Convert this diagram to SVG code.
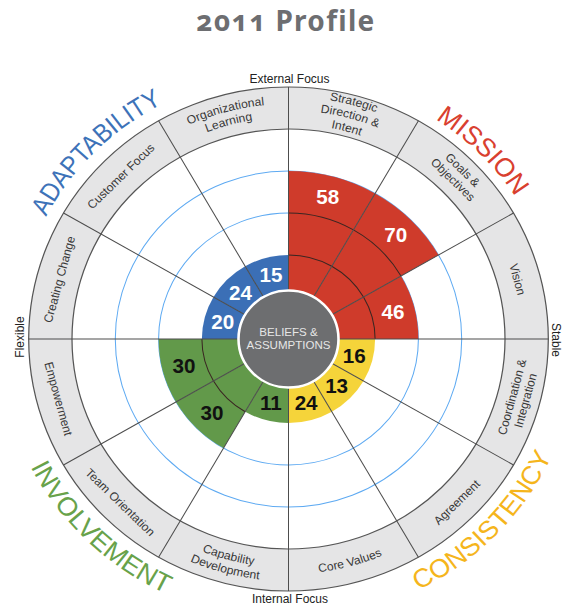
<svg xmlns="http://www.w3.org/2000/svg" width="568" height="605" viewBox="0 0 568 605">
<style>
.w-red{fill:#cf3b2b}
.w-blue{fill:#3b6fb6}
.w-green{fill:#62994a}
.w-yellow{fill:#f5d43a}
.inner-arc{fill:none;stroke:#3a2622;stroke-width:1}
.ring{fill:none;stroke:#5eaaf2;stroke-width:1}
.band{fill:none;stroke:#e5e5e6;stroke-width:42}
.edge{fill:none;stroke:#555;stroke-width:1.2}
.spoke{stroke:#4d4d4d;stroke-width:1}
.lbl{font-family:"Liberation Sans",Arial,sans-serif;font-size:11.8px;fill:#383838;text-anchor:middle}
.num{font-family:"Liberation Sans",Arial,sans-serif;font-size:20px;font-weight:bold;text-anchor:middle}
.nl{fill:#fff}
.nd{fill:#111}
.axis{font-family:"Liberation Sans",Arial,sans-serif;font-size:12px;fill:#222;text-anchor:middle}
.quad{font-family:"Liberation Sans",Arial,sans-serif;font-size:26px}
.core-txt{font-family:"Liberation Sans",Arial,sans-serif;font-size:11.2px;fill:#e6e6e6;text-anchor:middle}
</style>
<defs>
<path id="lp-org1" d="M-117.5,-203.52 A235 235 0 0 1 0,-235"/>
<path id="lp-org2" d="M-110.75,-191.82 A221.5 221.5 0 0 1 0,-221.5"/>
<path id="lp-str1" d="M0,-242 A242 242 0 0 1 121,-209.58"/>
<path id="lp-str2" d="M0,-228.5 A228.5 228.5 0 0 1 114.25,-197.88"/>
<path id="lp-str3" d="M0,-215 A215 215 0 0 1 107.5,-186.2"/>
<path id="lp-cap1" d="M-114.25,197.88 A228.5 228.5 0 0 0 0,228.5"/>
<path id="lp-cap2" d="M-121,209.58 A242 242 0 0 0 0,242"/>
<path id="lp-core" d="M0,235 A235 235 0 0 0 117.5,203.52"/>
<path id="qp-adapt" d="M-260.97,-46 A265 265 0 0 1 -46,-260.97"/>
<path id="qp-mission" d="M45.5,-258.02 A262 262 0 0 1 258.02,-45.5"/>
<path id="qp-inv" d="M-275.84,53.62 A281 281 0 0 0 -43.96,277.54"/>
<path id="qp-cons" d="M53.62,275.84 A281 281 0 0 0 277.54,43.96"/>
</defs>
<rect width="568" height="605" fill="#fff"/>
<text x="286" y="31" text-anchor="middle" style="font-family:'Noto Sans','Open Sans',sans-serif;font-size:28px;font-weight:bold;letter-spacing:1.3px;fill:#6d6e71;font-variant-numeric:oldstyle-nums">2011 Profile</text>
<text class="axis" x="289.5" y="82.5">External Focus</text>
<text class="axis" x="290" y="603">Internal Focus</text>
<text class="axis" transform="translate(24,337) rotate(-90)">Flexible</text>
<text class="axis" transform="translate(552,340) rotate(90)">Stable</text>
<g transform="translate(288.5,339) scale(1.031,1)">
<g id="grid">
<circle class="ring" r="126"/>
<circle class="ring" r="168"/>
<circle class="band" r="231"/>
</g>
<g id="seg-strategic-direction">
<path class="w-red" d="M0,0 L0,-168 A168 168 0 0 1 84,-145.49 Z"/>
<path class="inner-arc" d="M0,-84 A84 84 0 0 1 42,-72.75 M0,-126 A126 126 0 0 1 63,-109.12"/>
<text class="num nl" x="38.05" y="-134.8">58</text>
<text class="lbl"><textPath href="#lp-str1" startOffset="50%">Strategic</textPath><textPath href="#lp-str2" startOffset="50%">Direction &amp;</textPath><textPath href="#lp-str3" startOffset="50%">Intent</textPath></text>
</g>
<g id="seg-goals-objectives">
<path class="w-red" d="M0,0 L84,-145.49 A168 168 0 0 1 145.49,-84 Z"/>
<path class="inner-arc" d="M42,-72.75 A84 84 0 0 1 72.75,-42 M63,-109.12 A126 126 0 0 1 109.12,-63"/>
<text class="num nl" x="103.94" y="-96.8">70</text>
<text class="lbl" transform="rotate(45)"><tspan x="0" y="-235">Goals &amp;</tspan><tspan x="0" y="-221.5">Objectives</tspan></text>
</g>
<g id="seg-vision">
<path class="w-red" d="M0,0 L109.12,-63 A126 126 0 0 1 126,0 Z"/>
<path class="inner-arc" d="M72.75,-42 A84 84 0 0 1 84,0"/>
<text class="num nl" x="101.42" y="-20">46</text>
<text class="lbl" transform="rotate(75)" x="0" y="-226">Vision</text>
</g>
<g id="seg-coordination-integration">
<path class="w-yellow" d="M0,0 L84,0 A84 84 0 0 1 72.75,42 Z"/>
<text class="num nd" x="63.75" y="24.2">16</text>
<text class="lbl" transform="rotate(-75)"><tspan x="0" y="228.5">Coordination &amp;</tspan><tspan x="0" y="242">Integration</tspan></text>
</g>
<g id="seg-agreement">
<path class="w-yellow" d="M0,0 L72.75,42 A84 84 0 0 1 42,72.75 Z"/>
<text class="num nd" x="46.67" y="53.8">13</text>
<text class="lbl" transform="rotate(-45)" x="0" y="235">Agreement</text>
</g>
<g id="seg-core-values">
<path class="w-yellow" d="M0,0 L42,72.75 A84 84 0 0 1 0,84 Z"/>
<text class="num nd" x="17.08" y="70.9">24</text>
<text class="lbl"><textPath href="#lp-core" startOffset="50%">Core Values</textPath></text>
</g>
<g id="seg-capability-development">
<path class="w-green" d="M0,0 L0,84 A84 84 0 0 1 -42,72.75 Z"/>
<text class="num nd" x="-17.08" y="70.9">11</text>
<text class="lbl"><textPath href="#lp-cap1" startOffset="50%">Capability</textPath><textPath href="#lp-cap2" startOffset="50%">Development</textPath></text>
</g>
<g id="seg-team-orientation">
<path class="w-green" d="M0,0 L-63,109.12 A126 126 0 0 1 -109.12,63 Z"/>
<path class="inner-arc" d="M-42,72.75 A84 84 0 0 1 -72.75,42"/>
<text class="num nd" x="-74.25" y="81.4">30</text>
<text class="lbl" transform="rotate(45)" x="0" y="235">Team Orientation</text>
</g>
<g id="seg-empowerment">
<path class="w-green" d="M0,0 L-109.12,63 A126 126 0 0 1 -126,0 Z"/>
<path class="inner-arc" d="M-72.75,42 A84 84 0 0 1 -84,0"/>
<text class="num nd" x="-101.42" y="34.3">30</text>
<text class="lbl" transform="rotate(75)" x="0" y="235">Empowerment</text>
</g>
<g id="seg-creating-change">
<path class="w-blue" d="M0,0 L-84,0 A84 84 0 0 1 -72.75,-42 Z"/>
<text class="num nl" x="-63.75" y="-9.9">20</text>
<text class="lbl" transform="rotate(-75)" x="0" y="-226">Creating Change</text>
</g>
<g id="seg-customer-focus">
<path class="w-blue" d="M0,0 L-72.75,-42 A84 84 0 0 1 -42,-72.75 Z"/>
<text class="num nl" x="-46.67" y="-39.5">24</text>
<text class="lbl" transform="rotate(-45)" x="0" y="-226">Customer Focus</text>
</g>
<g id="seg-organizational-learning">
<path class="w-blue" d="M0,0 L-42,-72.75 A84 84 0 0 1 0,-84 Z"/>
<text class="num nl" x="-17.08" y="-56.6">15</text>
<text class="lbl"><textPath href="#lp-org1" startOffset="50%">Organizational</textPath><textPath href="#lp-org2" startOffset="50%">Learning</textPath></text>
</g>
<g id="connectors">
<circle class="edge" r="210"/>
<circle class="edge" r="252"/>
<line class="spoke" x1="0" y1="0" x2="0" y2="-252"/>
<line class="spoke" x1="0" y1="0" x2="126" y2="-218.24"/>
<line class="spoke" x1="0" y1="0" x2="218.24" y2="-126"/>
<line class="spoke" x1="0" y1="0" x2="252" y2="0"/>
<line class="spoke" x1="0" y1="0" x2="218.24" y2="126"/>
<line class="spoke" x1="0" y1="0" x2="126" y2="218.24"/>
<line class="spoke" x1="0" y1="0" x2="0" y2="252"/>
<line class="spoke" x1="0" y1="0" x2="-126" y2="218.24"/>
<line class="spoke" x1="0" y1="0" x2="-218.24" y2="126"/>
<line class="spoke" x1="0" y1="0" x2="-252" y2="0"/>
<line class="spoke" x1="0" y1="0" x2="-218.24" y2="-126"/>
<line class="spoke" x1="0" y1="0" x2="-126" y2="-218.24"/>
</g>
<g id="beliefs-assumptions">
<circle r="48.5" fill="#6d6e70" stroke="#fff" stroke-width="2.5"/>
<text class="core-txt" x="0" y="-3">BELIEFS &amp;</text>
<text class="core-txt" x="0" y="9.5">ASSUMPTIONS</text>
</g>
<g id="quadrant-labels">
<text class="quad" fill="#3d72b8"><textPath href="#qp-adapt" startOffset="50%" text-anchor="middle" textLength="162" lengthAdjust="spacingAndGlyphs">ADAPTABILITY</textPath></text>
<text class="quad" fill="#d9402f"><textPath href="#qp-mission" startOffset="50%" text-anchor="middle" textLength="110" lengthAdjust="spacingAndGlyphs">MISSION</textPath></text>
<text class="quad" fill="#68a24a"><textPath href="#qp-inv" startOffset="50%" text-anchor="middle" textLength="186" lengthAdjust="spacingAndGlyphs">INVOLVEMENT</textPath></text>
<text class="quad" fill="#f5b51c"><textPath href="#qp-cons" startOffset="50%" text-anchor="middle" textLength="190" lengthAdjust="spacingAndGlyphs">CONSISTENCY</textPath></text>
</g>
</g>
</svg>
